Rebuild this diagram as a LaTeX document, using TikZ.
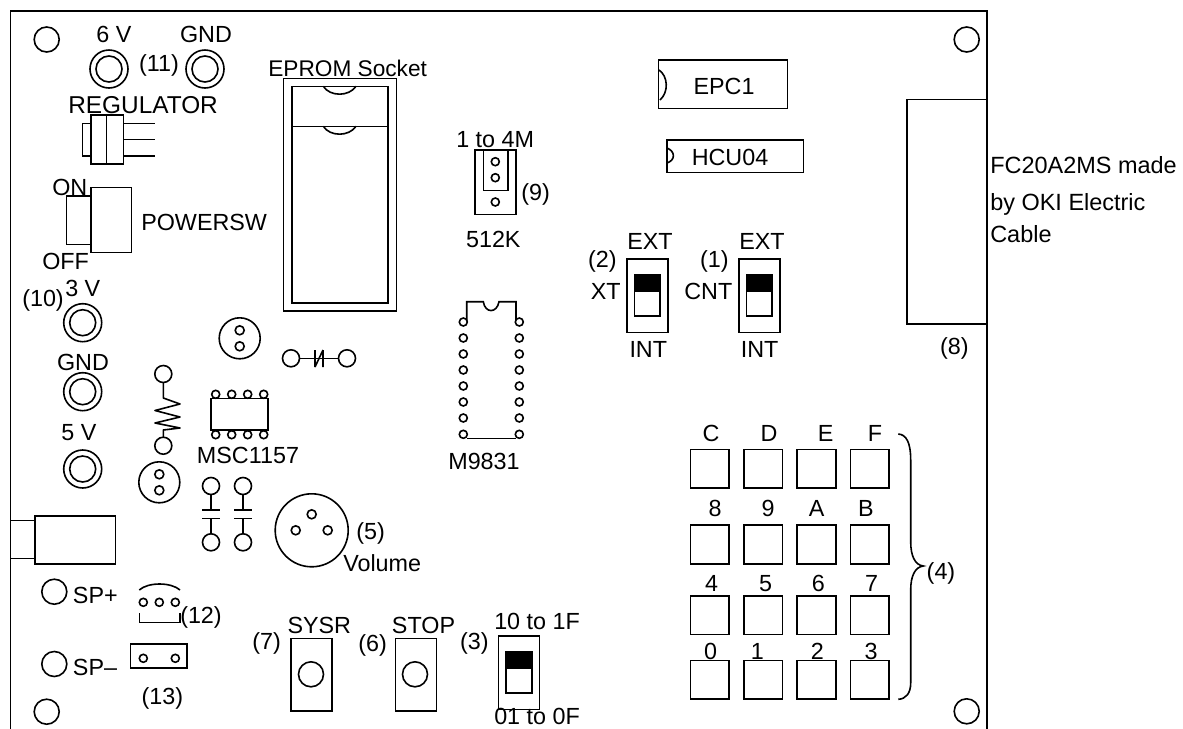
\documentclass[tikz,border=0pt]{standalone}
\usepackage{fontspec}
\setmainfont{Liberation Sans}
\tikzset{
  pcb/.style={line width=1.2pt,draw=black},
  lab/.style={inner sep=0pt,font=\fontsize{17.5}{20}\selectfont,text height=12.5pt,text depth=0pt},
  llab/.style={lab,anchor=west},
  pin/.style={pcb,fill=white},
}
\begin{document}
\begin{tikzpicture}[x=0.75pt,y=-0.75pt]
\useasboundingbox (0,0) rectangle (1183,729);
% board
\draw[pcb] (10.5,729) -- (10.5,11) -- (987,11) -- (987,729);
% mounting holes
\foreach \p in {(46.7,39.5),(46.7,711.7),(966.7,39.5),(966.7,711.3),(54.3,591.7),(54.3,664)}
  \draw[pcb] \p circle [radius=12.5*.75pt];
% jacks
\foreach \p in {(109,69),(205,69),(82.7,322.7),(82.7,391.7),(82.7,469)}{
  \draw[pcb] \p circle [radius=19*.75pt];
  \draw[pcb] \p circle [radius=13*.75pt];}
% regulator
\draw[pcb] (90.7,115) rectangle (123.3,164);
\draw[pcb] (106.3,115) -- (106.3,164);
\draw[pcb] (82.3,123.3) rectangle (90.7,155.7);
\foreach \y in {123.3,139.3,155.7} \draw[pcb] (123.3,\y) -- (155,\y);
% power switch
\draw[pcb] (90.7,187.3) rectangle (131.3,252.3);
\draw[pcb] (66.3,195.7) rectangle (90.7,244.3);
% EPROM
\draw[pcb] (283.3,78.3) rectangle (396.3,310.7);
\draw[pcb] (291.7,86.3) rectangle (388,302.7);
\draw[pcb] (291.7,126.3) -- (388,126.3);
\foreach \y in {86.3,126.3}
  \draw[pcb] (323.3,\y) .. controls (330,\y+10.5) and (349,\y+10.5) .. (356,\y);
% trimmers
\foreach \x/\y in {239.7/338.3,159.3/482.3}{
  \draw[pcb] (\x,\y) circle [radius=20.5*.75pt];
  \draw[pcb] (\x,\y-8) circle [radius=4.5*.75pt];
  \draw[pcb] (\x,\y+8) circle [radius=4.5*.75pt];}
% horizontal trimmer cap
\draw[pcb] (291,358.3) circle [radius=8.5*.75pt];
\draw[pcb] (347,358.3) circle [radius=8.5*.75pt];
\draw[pcb] (299.5,358.3) -- (338.5,358.3);
\draw[pcb] (315,350) -- (315,367) (323,350) -- (323,367) (315,367) -- (323,350);
% resistor
\draw[pcb] (163.3,374) circle [radius=8.5*.75pt];
\draw[pcb] (163.3,445.7) circle [radius=8.5*.75pt];
\draw[pcb,line join=round] (163.3,382.5) -- (163.3,398) -- (180,404) -- (155,410.5) -- (180,417) -- (155,423) -- (180,428) -- (163.3,430) -- (163.3,437.2);
% MSC1157
\draw[pcb] (211,398.3) rectangle (268,430);
\foreach \x in {215.7,231.7,247.7,263.7}{
  \draw[pin] (\x,394.3) circle [radius=4*.75pt];
  \draw[pin] (\x,434.7) circle [radius=4*.75pt];}
% capacitors
\foreach \x in {211,243}{
  \draw[pcb] (\x,486) circle [radius=8.5*.75pt];
  \draw[pcb] (\x,542.3) circle [radius=8.5*.75pt];
  \draw[pcb] (\x,494.5) -- (\x,510) (\x-8.7,510) -- (\x+8.7,510);
  \draw[pcb] (\x,533.8) -- (\x,518.3) (\x-8.7,518.3) -- (\x+8.7,518.3);}
% volume
\draw[pcb] (311.7,530.3) circle [radius=36.5*.75pt];
\foreach \p in {(311.7,514.3),(295.7,530.3),(327.7,530.3)}
  \draw[pcb] \p circle [radius=4.5*.75pt];
% output jack
\draw[pcb] (34.7,515.7) rectangle (115.3,564);
\draw[pcb] (10.5,520.3) rectangle (34.7,558.3);
% (12)
\foreach \x in {143.3,159.3,175.3} \draw[pcb] (\x,602.3) circle [radius=4*.75pt];
\draw[pcb] (139.3,590) .. controls (148,582) and (171,582) .. (180,590);
\draw[pcb] (139.3,613.3) -- (139.3,622.3) -- (180,622.3) -- (180,613.3);
% (13)
\draw[pcb] (130.3,643.7) rectangle (187,668);
\foreach \x in {143.3,175.3} \draw[pcb] (\x,658.3) circle [radius=4*.75pt];
% push buttons
\foreach \x/\c in {291/311,395.3/415}{
  \draw[pcb] (\x,638.3) rectangle (\x+41,711);
  \draw[pcb] (\c,674.3) circle [radius=12.5*.75pt];}
% DIP switches
\foreach \x/\y in {498.3/635.7,626.7/258.7,738.7/258.7}{
  \draw[pcb] (\x,\y) rectangle (\x+41,\y+73.6);
  \fill (\x+7.7,\y+15.6) rectangle (\x+33.4,\y+33.4);
  \draw[pcb] (\x+7.7,\y+15.6) rectangle (\x+33.4,\y+57.3);}
% EPC1 / HCU04
\draw[pcb] (658.3,60) rectangle (787.3,108.3);
\draw[pcb] (659,70) .. controls (668,76) and (669,92) .. (660,100);
\draw[pcb] (666.7,139.7) rectangle (803.3,172.3);
\draw[pcb] (667,148) .. controls (675,151) and (676,160) .. (667,163);
% (9)
\draw[pcb] (475,149.7) rectangle (516,214.3);
\draw[pcb] (483.3,149.7) rectangle (508,190.3);
\foreach \y in {161.7,177.7,202} \draw[pcb] (495.3,\y) circle [radius=4*.75pt];
% M9831
\draw[pcb] (466.7,322) -- (466.7,301.7) -- (483.3,301.7) .. controls (485,313.5) and (497,313.5) .. (499,301.7) -- (516,301.7) -- (516,322);
\draw[pcb] (467,438.3) -- (516,438.3);
\foreach \y in {322,338,354,370,386,402,418,434.3}{
  \draw[pin] (463.3,\y) circle [radius=4*.75pt];
  \draw[pin] (519.3,\y) circle [radius=4*.75pt];}
% connector
\draw[pcb] (906.7,99.5) rectangle (987,324);
% keypad
\foreach \x in {690.3,743.7,797,850.3}
  \foreach \y in {449.3,525,595.7,660.3}
    \draw[pcb] (\x,\y) rectangle (\x+38.7,\y+38.7);
% brace
\draw[pcb] (898.3,434) .. controls (906,434.5) and (910.7,442) .. (910.7,460) -- (910.7,541.6) .. controls (910.7,556) and (915,565) .. (923.3,566) .. controls (915,567) and (910.7,576) .. (910.7,590) -- (910.7,683) .. controls (910.7,693) and (906,699) .. (898.3,699.3);
% labels
\node[lab] (l6v) at (114,34) {6 V};
\node[lab] (lgnda) at (206,34) {GND};
\node[lab] (l11) at (159,63) {(11)};
\node[llab,font=\fontsize{17}{20}\selectfont] (leprom) at (268,68) {EPROM Socket};
\node[llab,font=\fontsize{18.3}{20}\selectfont] (lreg) at (68,105) {REGULATOR};
\node[llab] (lon) at (52,187) {ON};
\node[llab] (loff) at (42,261) {OFF};
\node[llab] (lpsw) at (141,222) {POWERSW};
\node[llab] (l10) at (22,298) {(10)};
\node[llab] (l3v) at (65,288) {3 V};
\node[lab] (lgndb) at (83,362) {GND};
\node[lab] (l5v) at (79,432) {5 V};
\node[llab] (lmsc) at (196.7,455) {MSC1157};
\node[lab] (l5) at (370.7,530.7) {(5)};
\node[llab] (lvol) at (343,562.7) {Volume};
\node[llab] (lspp) at (72.7,595) {SP+};
\node[llab] (lspm) at (72.7,666.7) {SP–};
\node[lab] (l12) at (201,615) {(12)};
\node[lab] (l13) at (162.3,695.7) {(13)};
\node[lab] (lsysr) at (319.3,625) {SYSR};
\node[lab] (l7) at (266.7,640.7) {(7)};
\node[lab] (l6) at (372.7,643.3) {(6)};
\node[llab] (lstop) at (391.7,625) {STOP};
\node[lab] (l3) at (474.3,641) {(3)};
\node[llab] (lhi) at (494,621) {10 to 1F};
\node[llab] (llo) at (494,716.5) {01 to 0F};
\node[lab] (lepc) at (724,85.7) {EPC1};
\node[lab] (lhcu) at (730,156.7) {HCU04};
\node[llab] (l14m) at (456,139) {1 to 4M};
\node[lab] (l9) at (535.7,191.7) {(9)};
\node[lab] (l512) at (493.3,239.3) {512K};
\node[lab] (lm98) at (484,461) {M9831};
\node[lab] (lexta) at (650,240.7) {EXT};
\node[lab] (linta) at (648.3,349.3) {INT};
\node[lab] (l2) at (602.3,259) {(2)};
\node[lab] (lxt) at (605.7,290.7) {XT};
\node[lab] (lextb) at (762,240.7) {EXT};
\node[lab] (lintb) at (759.7,349.3) {INT};
\node[lab] (l1) at (714.3,259) {(1)};
\node[lab] (lcnt) at (708.3,290.7) {CNT};
\node[lab] (l8) at (954.3,346.3) {(8)};
\node[lab] (l4) at (941,571) {(4)};
\node[lab] (kc) at (711,433.3) {C};
\node[lab] (kd) at (769,433.3) {D};
\node[lab] (ke) at (825.7,433.3) {E};
\node[lab] (kf) at (875,433.3) {F};
\node[lab] (k8) at (715,508.3) {8};
\node[lab] (k9) at (768,508.3) {9};
\node[lab] (ka) at (816.7,508.3) {A};
\node[lab] (kb) at (866,508.3) {B};
\node[lab] (k4) at (711.7,583.3) {4};
\node[lab] (k5) at (765.7,583.3) {5};
\node[lab] (k6) at (818.3,583.3) {6};
\node[lab] (k7) at (871.7,583.3) {7};
\node[lab] (k0) at (710.7,651) {0};
\node[lab] (k1) at (757.3,651) {1};
\node[lab] (k2) at (817.3,651) {2};
\node[lab] (k3) at (871,651) {3};
\node[llab,font=\fontsize{17.6}{20}\selectfont] (lfc) at (990,165) {FC20A2MS made};
\node[llab,font=\fontsize{17.6}{20}\selectfont] (loki) at (990,202.3) {by OKI Electric};
\node[llab,font=\fontsize{17.6}{20}\selectfont] (lcab) at (990,234) {Cable};
\end{tikzpicture}
\end{document}
